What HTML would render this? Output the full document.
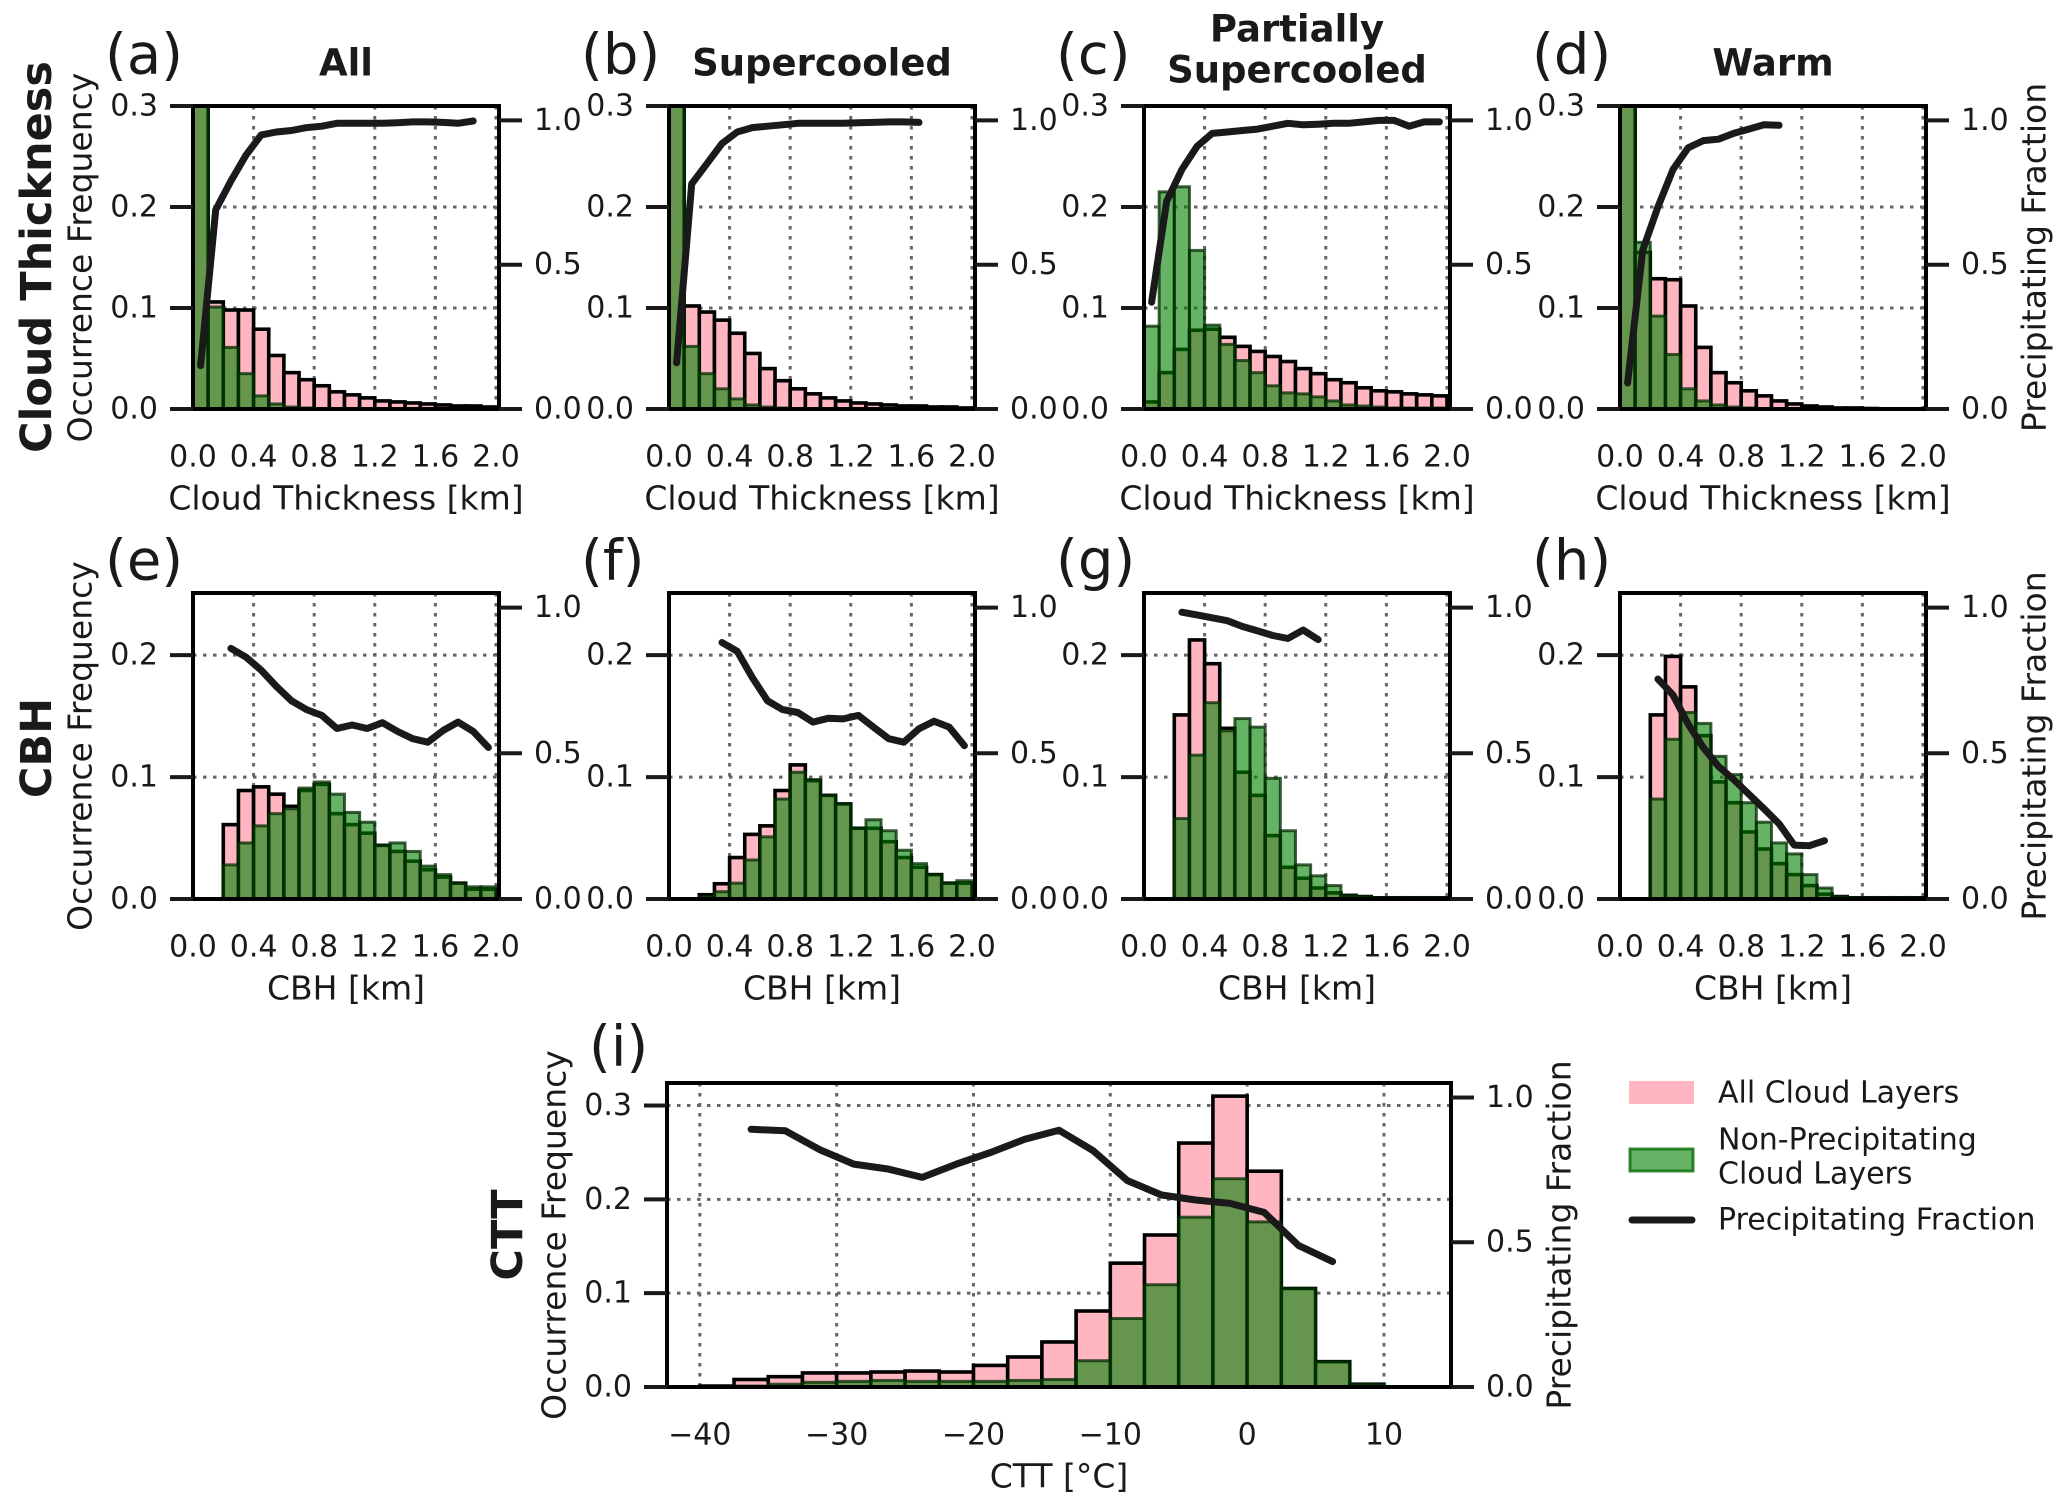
<!DOCTYPE html>
<html><head><meta charset="utf-8"><style>
html,body{margin:0;padding:0;background:#fff;}
svg{display:block;font-family:"DejaVu Sans","Liberation Sans",sans-serif;}
</style></head><body>
<svg id="fig" width="2067" height="1506" viewBox="0 0 2067 1506" xmlns="http://www.w3.org/2000/svg">
<rect width="2067" height="1506" fill="#fff"/>
</svg>
<script>
// ---- data ----
const kmTicks = [0.0,0.4,0.8,1.2,1.6,2.0];
const kmTickLabels = ["0.0","0.4","0.8","1.2","1.6","2.0"];
const cttTicks = [-40,-30,-20,-10,0,10];
const cttTickLabels = ["\u221240","\u221230","\u221220","\u221210","0","10"];
const fracTicks = [0,0.5,1.0];
const fracTickLabels = ["0.0","0.5","1.0"];
const row1Ticks = [0,0.1,0.2,0.3];
const row1TickLabels = ["0.0","0.1","0.2","0.3"];
const row2Ticks = [0,0.1,0.2];
const row2TickLabels = ["0.0","0.1","0.2"];

const aAll = [0.45,0.106,0.098,0.098,0.079,0.053,0.036,0.029,0.023,0.017,0.014,0.011,0.008,0.007,0.006,0.005,0.004,0.003,0.003,0.002];
const aNon = [0.45,0.101,0.061,0.035,0.013,0.005,0.002,0.001,0,0,0,0,0,0,0,0,0,0,0,0];
const aLine = [0.15,0.69,0.79,0.88,0.95,0.96,0.965,0.975,0.98,0.99,0.99,0.99,0.99,0.992,0.995,0.995,0.993,0.99,0.998];

const bAll = [0.45,0.102,0.096,0.088,0.075,0.055,0.04,0.028,0.02,0.015,0.011,0.008,0.006,0.005,0.004,0.003,0.003,0.002,0.002,0.001];
const bNon = [0.45,0.062,0.035,0.02,0.01,0.004,0.002,0.001,0,0,0,0,0,0,0,0,0,0,0,0];
const bLine = [0.16,0.78,0.85,0.92,0.96,0.975,0.98,0.985,0.99,0.99,0.99,0.99,0.992,0.993,0.995,0.995,0.993];

const cAll = [0.007,0.036,0.059,0.078,0.079,0.071,0.062,0.057,0.052,0.047,0.04,0.035,0.029,0.026,0.021,0.018,0.017,0.015,0.014,0.013];
const cNon = [0.082,0.215,0.22,0.157,0.083,0.064,0.048,0.036,0.023,0.016,0.015,0.012,0.008,0.004,0.003,0.002,0.001,0.001,0.001,0.001];
const cLine = [0.37,0.72,0.83,0.91,0.955,0.96,0.965,0.97,0.98,0.99,0.985,0.987,0.99,0.99,0.995,1.0,1.0,0.98,0.995,0.995];

const dAll = [0.45,0.155,0.129,0.128,0.102,0.061,0.036,0.026,0.018,0.013,0.008,0.005,0.003,0.002,0.001,0.001,0.0005,0,0,0];
const dNon = [0.45,0.165,0.092,0.054,0.02,0.008,0.004,0.002,0.001,0,0,0,0,0,0,0,0,0,0,0];
const dLine = [0.09,0.55,0.70,0.83,0.905,0.93,0.935,0.955,0.97,0.985,0.983];

const eAll = [0,0,0.061,0.089,0.092,0.086,0.076,0.089,0.094,0.07,0.061,0.054,0.044,0.039,0.031,0.024,0.018,0.013,0.008,0.008];
const eNon = [0,0,0.028,0.046,0.06,0.07,0.074,0.091,0.096,0.086,0.071,0.063,0.044,0.046,0.039,0.027,0.02,0.013,0.01,0.01];
const eLine = [0.86,0.83,0.785,0.73,0.68,0.65,0.63,0.585,0.597,0.585,0.605,0.575,0.55,0.538,0.578,0.607,0.575,0.52];

const fAll = [0,0,0.0035,0.0125,0.034,0.053,0.06,0.089,0.11,0.097,0.085,0.078,0.058,0.058,0.047,0.034,0.026,0.02,0.013,0.013];
const fNon = [0,0,0.002,0.006,0.013,0.032,0.051,0.082,0.104,0.098,0.085,0.078,0.058,0.065,0.056,0.04,0.029,0.02,0.013,0.015];
const fLine = [0.88,0.85,0.76,0.68,0.65,0.64,0.607,0.62,0.618,0.63,0.59,0.55,0.538,0.584,0.61,0.59,0.526];

const gAll = [0,0,0.151,0.2125,0.193,0.14,0.104,0.085,0.052,0.026,0.017,0.009,0.005,0.003,0.002,0.001,0.001,0.001,0.001,0.001];
const gNon = [0,0,0.066,0.118,0.161,0.138,0.148,0.141,0.099,0.056,0.028,0.019,0.011,0.003,0.002,0.001,0.001,0.001,0.001,0.001];
const gLine = [0.984,0.975,0.965,0.955,0.935,0.92,0.904,0.894,0.923,0.89];

const hAll = [0,0,0.151,0.199,0.174,0.134,0.096,0.079,0.055,0.041,0.029,0.02,0.011,0.004,0.002,0.001,0.001,0.001,0.001,0.001];
const hNon = [0,0,0.082,0.131,0.153,0.144,0.117,0.102,0.079,0.063,0.046,0.037,0.02,0.009,0.002,0.001,0.001,0.001,0.001,0.001];
const hLine = [0.755,0.7,0.6,0.52,0.455,0.41,0.36,0.31,0.258,0.185,0.183,0.2];

const iAll = [0.001,0.008,0.011,0.015,0.015,0.016,0.017,0.016,0.023,0.032,0.048,0.081,0.132,0.162,0.26,0.31,0.23,0.105,0.027,0.003];
const iNon = [0.0005,0.001,0.003,0.005,0.006,0.007,0.006,0.006,0.006,0.007,0.008,0.028,0.073,0.109,0.181,0.222,0.176,0.105,0.027,0.003];
const iLine = [0.89,0.885,0.82,0.77,0.753,0.724,0.77,0.81,0.856,0.887,0.816,0.713,0.663,0.646,0.634,0.603,0.489,0.433];

// ---- drawing ----
const NS = "http://www.w3.org/2000/svg";
const svg = document.getElementById('fig');
function mk(tag, attrs, parent){
  const e = document.createElementNS(NS, tag);
  for (const k in attrs) e.setAttribute(k, attrs[k]);
  (parent||svg).appendChild(e);
  return e;
}
function txt(str, x, y, size, opts, parent){
  opts = opts||{};
  const t = mk('text', {x:x, y:y, 'font-size':size, fill:'#1a1a1a',
    'text-anchor':opts.anchor||'middle', 'dominant-baseline':'central',
    'font-weight':opts.bold?'bold':'normal'}, parent);
  if (opts.rot) t.setAttribute('transform', 'rotate(-90 '+x+' '+y+')');
  t.textContent = str;
  return t;
}
let clipId = 0;
function panel(p){
  const g = mk('g', {});
  
  
  const L=p.x, T=p.y, W=p.w, H=p.h;
  const sx = v => L + (v - p.xmin)/(p.xmax - p.xmin)*W;
  const sy = v => T + H - v/p.ymax*H;
  const sr = v => T + H - v/1.05*H;
  const cid = 'clip'+(clipId++);
  const defs = mk('defs', {}, g);
  const cp = mk('clipPath', {id:cid}, defs);
  mk('rect', {x:L, y:T, width:W, height:H}, cp);
  const grid = mk('g', {'clip-path':'url(#'+cid+')'}, g);
  
  
  p.xticks.forEach(v => { const X=sx(v); if (X>L+3 && X<L+W-3) mk('line',{x1:X,x2:X,y1:T,y2:T+H,stroke:'#666','stroke-width':3,'stroke-dasharray':'3.5 6.5'},grid); });
  p.yticks.forEach(v => { const Y=sy(v); if (Y>T+3 && Y<T+H-3) mk('line',{x1:L,x2:L+W,y1:Y,y2:Y,stroke:'#666','stroke-width':3,'stroke-dasharray':'3.5 6.5'},grid); });
  const bars = mk('g', {'clip-path':'url(#'+cid+')'}, g);
  p.all.forEach((v,i) => {
    const x0 = sx(p.bin0 + i*p.bw), x1 = sx(p.bin0 + (i+1)*p.bw);
    const r = mk('rect', {x:x0, y:sy(v), width:x1-x0, height:sy(0)-sy(v), fill:'#ffb6c1', stroke:'#000', 'stroke-width':3.6}, bars);
    
    
  });
  p.non.forEach((v,i) => {
    const x0 = sx(p.bin0 + i*p.bw), x1 = sx(p.bin0 + (i+1)*p.bw);
    const r = mk('rect', {x:x0, y:sy(v), width:x1-x0, height:sy(0)-sy(v), fill:'#008000', 'fill-opacity':0.6, stroke:'#002a00', 'stroke-opacity':0.75, 'stroke-width':3}, bars);
    
    
  });
  const pts = p.line.map((v,i) => sx(p.line0 + i*p.bw).toFixed(1)+','+sr(v).toFixed(1)).join(' ');
  const pl = mk('polyline', {points:pts, fill:'none', stroke:'#1a1a1a', 'stroke-width':7, 'stroke-linejoin':'round', 'stroke-linecap':'round', 'clip-path':'url(#'+cid+')'}, g);
  
  
  mk('rect', {x:L, y:T, width:W, height:H, fill:'none', stroke:'#000', 'stroke-width':4}, g);
  p.yticks.forEach((v,i) => {
    const Y = sy(v);
    mk('line', {x1:L-23, x2:L, y1:Y, y2:Y, stroke:'#1a1a1a', 'stroke-width':4}, g);
    txt(p.ytickLabels[i], L-35, Y, 30, {anchor:'end'}, g);
  });
  fracTicks.forEach((v,i) => {
    const Y = sr(v);
    mk('line', {x1:L+W, x2:L+W+23, y1:Y, y2:Y, stroke:'#1a1a1a', 'stroke-width':4}, g);
    txt(fracTickLabels[i], L+W+35, Y, 30, {anchor:'start'}, g);
  });
  p.xticks.forEach((v,i) => txt(p.xtickLabels[i], sx(v), T+H+48, 30, {}, g));
  const xl = txt(p.xlabel, L+W/2, T+H+89, 33, {}, g);
  
  
  txt(p.letter, p.letterX, p.letterY, 56, {anchor:'start'}, g);
  if (p.ylabel) { const yl = txt('Occurrence Frequency', L-113, T+H/2, 33, {rot:true}, g);
    
     }
  if (p.rlabel) { const rl = txt('Precipitating Fraction', L+W+108, T+H/2, 33, {rot:true}, g);
    
     }
}
const lefts = [193, 669, 1144, 1620];
const W = 306;
const row1 = [[aAll,aNon,aLine,'(a)','panel-a'],[bAll,bNon,bLine,'(b)','panel-b'],[cAll,cNon,cLine,'(c)','panel-c'],[dAll,dNon,dLine,'(d)','panel-d']];
row1.forEach((r,k) => panel({name:r[4], x:lefts[k], y:106, w:W, h:303, xmin:0, xmax:2.02, ymax:0.3,
  all:r[0], non:r[1], line:r[2], bin0:0, bw:0.1, line0:0.05,
  xticks:kmTicks, xtickLabels:kmTickLabels, yticks:row1Ticks, ytickLabels:row1TickLabels,
  xlabel:'Cloud Thickness [km]', letter:r[3], letterX:lefts[k]-88, letterY:55, ylabel:k===0, rlabel:k===3}));
const row2 = [[eAll,eNon,eLine,'(e)','panel-e',0.25],[fAll,fNon,fLine,'(f)','panel-f',0.35],[gAll,gNon,gLine,'(g)','panel-g',0.25],[hAll,hNon,hLine,'(h)','panel-h',0.25]];
row2.forEach((r,k) => panel({name:r[4], x:lefts[k], y:593, w:W, h:306, xmin:0, xmax:2.02, ymax:0.251,
  all:r[0], non:r[1], line:r[2], bin0:0, bw:0.1, line0:r[5],
  xticks:kmTicks, xtickLabels:kmTickLabels, yticks:row2Ticks, ytickLabels:row2TickLabels,
  xlabel:'CBH [km]', letter:r[3], letterX:lefts[k]-88, letterY:561, ylabel:k===0, rlabel:k===3}));
panel({name:'panel-i', x:667, y:1083, w:784, h:304, xmin:-42.4, xmax:14.9, ymax:0.324,
  all:iAll, non:iNon, line:iLine, bin0:-40, bw:2.5, line0:-36.25,
  xticks:cttTicks, xtickLabels:cttTickLabels, yticks:row1Ticks, ytickLabels:row1TickLabels,
  xlabel:'CTT [\u00B0C]', letter:'(i)', letterX:589, letterY:1047, ylabel:true, rlabel:true});

const titles = [['All',346,63],['Supercooled',822,63],['Warm',1773,63]];
titles.forEach(t => { const e = txt(t[0], t[1], t[2], 37, {bold:true});
  
   });
const pt1 = txt('Partially', 1297, 29, 37, {bold:true});


const pt2 = txt('Supercooled', 1297, 70, 37, {bold:true});


const rl1 = txt('Cloud Thickness', 37, 257, 43, {bold:true, rot:true});


const rl2 = txt('CBH', 37, 748, 43, {bold:true, rot:true});


const rl3 = txt('CTT', 508, 1235, 43, {bold:true, rot:true});



const leg = mk('g', {});


const e1 = mk('rect', {x:1629, y:1081, width:65, height:23, fill:'#ffb6c1'}, leg);


txt('All Cloud Layers', 1718, 1093, 30, {anchor:'start'}, leg);
const e2 = mk('rect', {x:1630, y:1149, width:63, height:22, fill:'#008000', 'fill-opacity':0.6, stroke:'#0a6a0a', 'stroke-opacity':0.8, 'stroke-width':3}, leg);


txt('Non-Precipitating', 1718, 1140, 30, {anchor:'start'}, leg);
txt('Cloud Layers', 1718, 1174, 30, {anchor:'start'}, leg);
const e3 = mk('line', {x1:1632, x2:1692, y1:1220, y2:1220, stroke:'#1a1a1a', 'stroke-width':7, 'stroke-linecap':'round'}, leg);


txt('Precipitating Fraction', 1718, 1220, 30, {anchor:'start'}, leg);
</script>
</body></html>
